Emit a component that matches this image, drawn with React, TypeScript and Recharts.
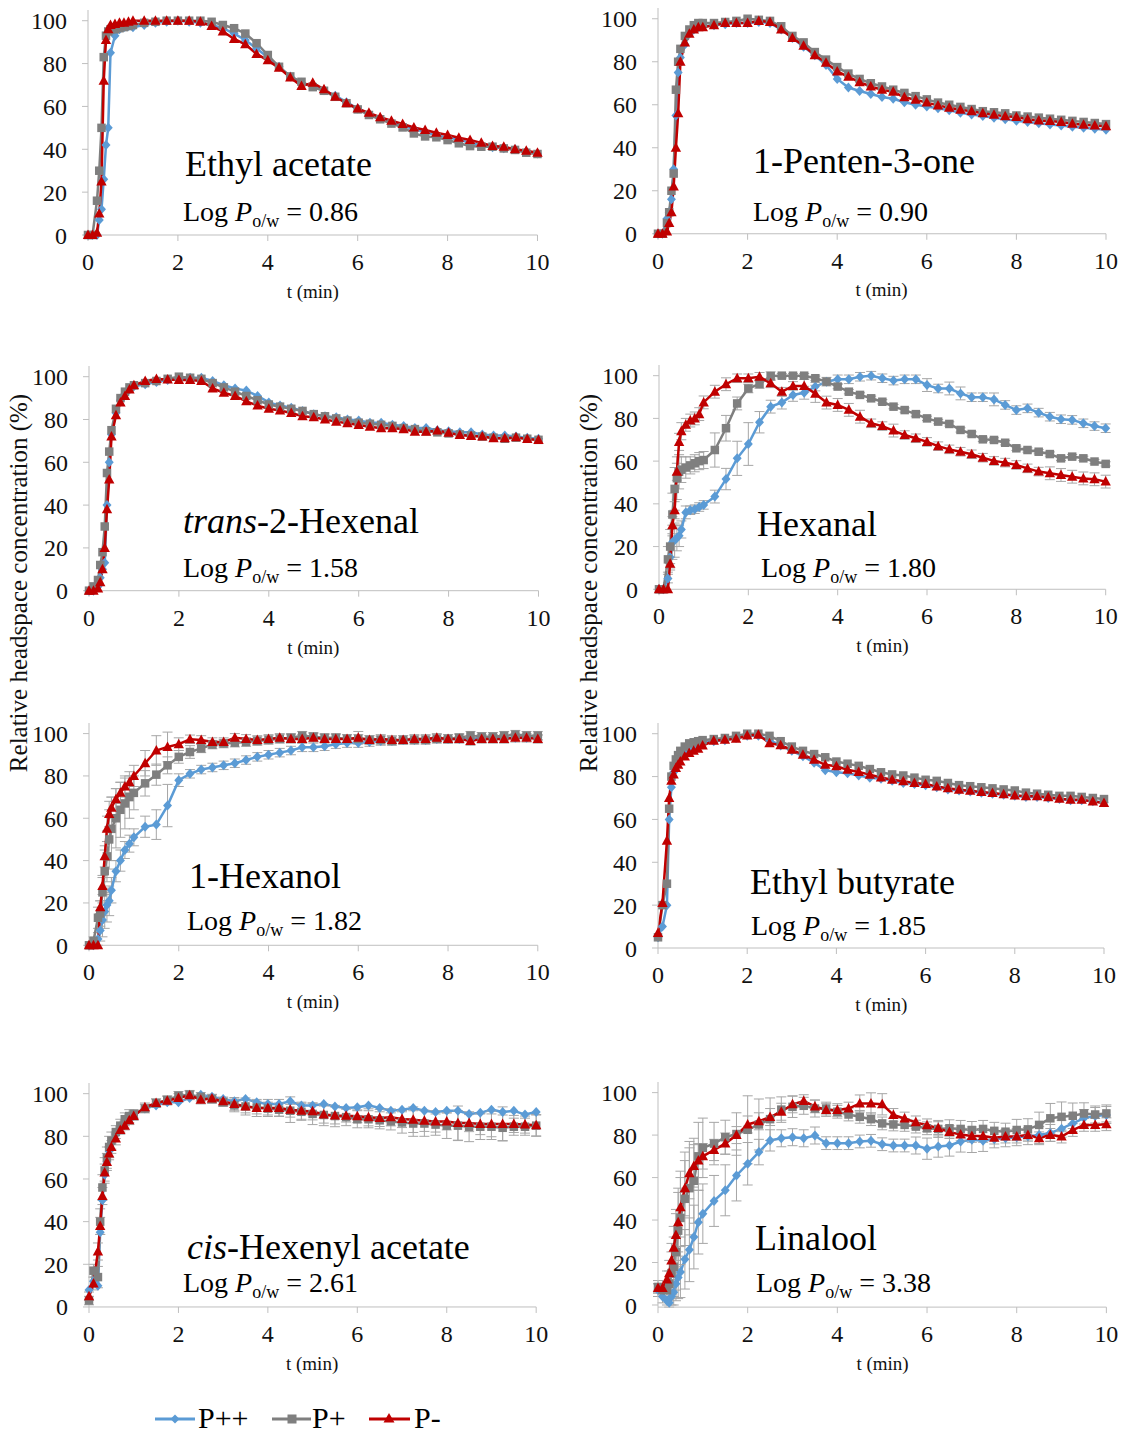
import React from "react";
import { LineChart, Line, XAxis, YAxis, ErrorBar } from "recharts";

// sampling times (min), shared by all panels
const T = [
  0, 0.1, 0.2, 0.25, 0.3, 0.35, 0.4, 0.45, 0.5, 0.6, 0.7, 0.8, 0.9,
  1, 1.25, 1.5, 1.75, 2, 2.25, 2.5, 2.75, 3, 3.25, 3.5, 3.75, 4, 4.25, 4.5, 4.75, 5, 5.25, 5.5, 5.75, 6, 6.25, 6.5,
  6.75, 7, 7.25, 7.5, 7.75, 8, 8.25, 8.5, 8.75, 9, 9.25, 9.5, 9.75, 10,
];
const X_TICKS = [0, 2, 4, 6, 8, 10];
const Y_TICKS = [0, 20, 40, 60, 80, 100];

// Ethyl acetate
const ethylAcetatePP = [
  0, 0, 0, 7, 12, 26, 42, 50, 85, 93, 96, 97, 97.5,
  97, 98, 99, 99.5, 100, 99.5, 99, 98, 96.5, 94, 91, 87, 83, 78.5, 74, 71, 69.5, 67.5, 65, 62, 59, 56.5, 54.5, 52.5,
  51, 49.5, 48, 46.5, 45.5, 44.5, 43, 42, 41, 40.5, 40, 39, 38,
];
const ethylAcetateP = [
  0, 0, 16, 30, 50, 83, 93, 95, 96, 96, 96.5, 97, 97.5,
  98, 99, 99.5, 100, 100, 100, 100, 99.5, 98, 96.5, 94, 89.5, 84, 78.5, 74, 71.5, 69, 67.3, 64.5, 61.5, 58.6, 56, 54,
  52, 50.2, 47.4, 46, 45.6, 44.3, 42.8, 41.5, 41.2, 41.2, 40.4, 39.7, 38.4, 37.8,
];
const ethylAcetateM = [
  0, 0, 1, 10, 25, 72, 91, 96, 98, 98.5, 99, 99, 99.5,
  100, 100, 100, 100, 100, 100, 99.5, 97.5, 95, 91.5, 89, 84.5, 81.5, 78, 73.5, 69.5, 71, 68, 64.5, 61.5, 59, 57, 55,
  53.3, 51.8, 50.2, 49, 47.7, 46.7, 45.4, 44.3, 43, 41.5, 41.2, 40, 39.3, 38.4,
];

// 1-Penten-3-one
const pentenonePP = [
  0, 0, 7, 10, 16, 30, 55, 75, 82, 88, 93, 95, 96,
  96.5, 97, 97.5, 98, 98, 98.5, 98, 95, 91, 87, 83, 78.5, 72, 68, 66.4, 65, 63.6, 62.8, 61.2, 60, 59.2, 58.4, 57.4,
  56.3, 55.5, 54.8, 54, 53.3, 52.6, 52, 51.4, 50.8, 50.3, 49.8, 49.3, 48.8, 48.4,
];
const pentenoneP = [
  0, 0, 5, 10, 20, 28, 67, 80, 86, 92, 95, 97, 98,
  98, 98, 98.5, 99, 100, 99.5, 99, 96.5, 92, 89, 84.5, 81, 77.5, 74.5, 72, 70, 68.5, 67, 65.5, 64, 62.5, 61, 60,
  59, 58, 57, 56.5, 56, 55, 54.5, 54, 53.5, 53, 52.5, 52, 51.5, 51,
];
const pentenoneM = [
  0, 0, 1, 5, 10, 22, 40, 56, 80, 89, 93, 95, 96,
  96, 97, 98, 98, 98, 99, 98.5, 95, 91, 87.5, 83, 79.5, 75.5, 73, 70.5, 68.5, 67, 66, 63.5, 62.3, 61, 59.7, 58.6,
  57.7, 57, 56, 55.3, 54.7, 54.3, 53.3, 52.7, 52.4, 52, 51.2, 50.7, 50.4, 50,
];

// trans-2-Hexenal
const hexenalPP = [
  0, 0, 2, 6, 10, 13, 40, 60, 73, 83, 89, 92, 94,
  95.5, 96.5, 97.5, 98.5, 99, 99.5, 99.5, 98, 96, 94.5, 93.5, 91, 88, 86.5, 85.5, 84, 82.5, 81.5, 81, 80, 79.5, 78.5,
  78.5, 77.5, 77, 76, 76, 75, 74.5, 74, 74, 73, 72.5, 72.5, 72, 71.5, 71,
];
const hexenalP = [
  0, 2, 5, 12, 18, 30, 55, 65, 75, 85, 90, 93, 95,
  96, 97, 98, 99, 100, 99.5, 99, 97, 95, 93, 91, 89, 87, 86, 85, 84, 82.5, 81.5, 80.5, 79.5, 78.5, 78, 77.5,
  77, 76, 75.5, 74.5, 74, 73.5, 73, 72.5, 72, 71.5, 71, 71.5, 71, 70.5,
];
const hexenalM = [
  0, 0, 1, 4, 10, 20, 38, 52, 72, 82, 88, 91, 94,
  96, 98, 98.9, 98.7, 98.4, 98.4, 98, 94.5, 92.5, 91, 88.5, 86.5, 85, 84.2, 83, 81.5, 81, 80, 79, 78.2, 77.4, 76.6,
  75.9, 75.9, 75.5, 74.3, 74.3, 74.8, 73.8, 72.7, 72.3, 72, 71.2, 71.2, 71.7, 70.9, 70.4,
];

// Hexanal
const hexanalPP = [
  0, 0, 5, 15, 22, 23, 24, 25, 28, 36, 37, 37.5, 38.5,
  39.5, 43.4, 51.6, 61.3, 68, 78.2, 85.5, 87.4, 91, 92, 94.9, 97.2, 98.3, 98.3, 99.5, 100, 98.8, 97.7, 98.3, 98.3,
  95.6, 94, 94, 91.7, 89.9, 89.9, 88.9, 86.3, 83.9, 84.7, 82.7, 80.8, 79.6, 79.3, 77.7, 76.4, 75.4,
];
const hexanalP = [
  0, 0, 14, 20, 35, 47, 52, 55, 56, 57, 58, 59, 60,
  60.5, 65.2, 75.4, 87, 94, 96.1, 99.8, 100, 100, 100, 98.8, 97.2, 94.9, 92.5, 91, 89.4, 87.8, 85.5, 83.9, 82, 80,
  78.5, 77.4, 74.6, 72.7, 70.2, 69.9, 68.6, 66, 65.2, 64.4, 63.3, 61.3, 62.1, 61.3, 59.8, 58.7,
];
const hexanalM = [
  0, 0, 0, 12, 30, 37, 55, 69, 74, 77, 79, 80, 82,
  87.5, 92.5, 96, 98.8, 98.8, 99.5, 96.4, 92.5, 95.2, 95.2, 91.5, 87.4, 86.3, 84, 80.8, 77.7, 76.4, 74.3, 72.2, 70.7,
  69, 67, 65.5, 64.4, 63.2, 61.6, 60.1, 59.3, 58.2, 56.6, 55.1, 54.3, 53.5, 52.7, 51.9, 51.5, 50.4,
];
const hexanalErrPP = [
  0, 0, 2, 5, 8, 8, 6, 5, 4, 3, 2, 2, 2,
  2, 3, 5, 8, 10, 5, 3, 3, 3, 3, 2, 2, 2, 2, 2, 2, 2, 2, 2, 2, 3, 2, 3, 3, 2, 2, 3, 2, 2, 2, 2, 2, 2, 2, 2, 2, 2,
];
const hexanalErrP = [
  0, 0, 6, 8, 10, 10, 10, 8, 6, 5, 4, 4, 4,
  4, 8, 6, 3, 2, 2, 2, 1, 1, 1, 1, 1, 1, 1, 1, 1, 1, 1, 1, 1, 1, 1, 1, 1, 1, 1, 1, 1, 1, 1, 1, 1, 1, 1, 1, 1, 1,
];
const hexanalErrM = [
  0, 0, 0, 3, 4, 4, 4, 4, 4, 3, 3, 3, 3,
  3, 3, 3, 2, 2, 2, 2, 2, 2, 3, 4, 3, 3, 3, 3, 2, 2, 3, 2, 2, 2, 2, 2, 2, 2, 2, 2, 2, 2, 2, 2, 3, 3, 3, 3, 3, 3,
];

// 1-Hexanol
const hexanolPP = [
  0, 0, 3, 7, 12, 16, 19, 21, 26, 35, 40, 45, 48,
  51, 56, 57, 66, 78, 81, 83, 84, 85, 86, 87.5, 89, 90, 91, 92, 93.5, 93.5, 94, 95, 95.5, 95.5, 96, 96.5, 96.5,
  97, 97, 97, 97.5, 97.5, 97.5, 97.5, 98, 98, 98, 98, 98, 98,
];
const hexanolP = [
  0, 2, 13, 15, 25, 35, 42, 50, 55, 60, 64, 67, 70,
  72, 76.5, 80.6, 85, 89, 91.3, 93, 94.8, 95.3, 95.7, 96, 96.5, 97, 97.5, 98, 99, 98.5, 98, 98, 97.5, 97.5, 97, 97,
  96.5, 97, 97, 97, 97.5, 97.5, 98, 99, 98.5, 98.5, 99, 99.5, 99, 99,
];
const hexanolM = [
  0, 0, 0, 18, 28, 42, 55, 62, 65, 69, 72, 75, 77,
  80, 86, 92, 93.7, 95, 97.3, 97, 96, 96, 98, 97.5, 97, 97.5, 98, 97.5, 97.5, 98, 97.5, 97.5, 97.5, 98, 97, 97.5,
  97, 97, 97.5, 97.5, 98, 97.5, 97.5, 96.5, 97.5, 97.5, 97.5, 98, 98, 97.5,
];
const hexanolErrPP = [
  0, 0, 3, 5, 8, 8, 8, 7, 6, 5, 5, 4, 4,
  4, 5, 7, 10, 3, 2, 2, 2, 2, 2, 2, 2, 2, 2, 2, 2, 2, 2, 2, 2, 2, 2, 2, 1, 1, 1, 1, 1, 1, 1, 1, 1, 1, 1, 1, 1, 1,
];
const hexanolErrP = [
  0, 2, 5, 6, 8, 10, 12, 14, 15, 14, 13, 12, 10,
  8, 6, 5, 4, 3, 3, 2, 2, 2, 2, 2, 2, 2, 2, 2, 2, 2, 2, 2, 2, 2, 2, 2, 2, 2, 2, 2, 2, 2, 2, 2, 2, 2, 2, 2, 2, 2,
];
const hexanolErrM = [
  0, 0, 0, 3, 4, 5, 6, 6, 5, 5, 5, 5, 5,
  5, 6, 7, 7, 3, 2, 2, 2, 2, 2, 2, 2, 2, 2, 2, 2, 2, 2, 2, 2, 3, 2, 2, 2, 2, 2, 2, 2, 2, 2, 2, 2, 2, 2, 2, 2, 2,
];

// Ethyl butyrate
const ethylButyratePP = [
  5, 10, 20, 60, 75, 82, 86, 88, 90, 92, 93.5, 94.5, 95,
  96, 96.5, 97, 98, 99, 99, 97, 94.5, 92, 89.5, 86.5, 83, 82, 81.5, 80.5, 79.5, 79, 78, 77, 76.5, 76, 75, 74,
  73.5, 73, 72.5, 72, 71.5, 71, 70.5, 70.5, 70, 69.5, 69, 69, 68.5, 68,
];
const ethylButyrateP = [
  5, 20, 30, 65, 80, 85, 88, 90, 92, 94, 95.5, 96, 96.5,
  97, 97.5, 98, 99, 100, 100, 99, 96.5, 94, 92, 90.5, 89, 87, 86, 85, 83.5, 82, 81, 80.5, 79.5, 78.5, 78, 77,
  76, 75.5, 75, 74.5, 74, 73.5, 72.5, 72, 71.5, 71, 71, 70.5, 70, 69.5,
];
const ethylButyrateM = [
  7, 21, 50, 70, 78, 81, 84, 85.5, 87, 89.4, 91, 92, 93,
  94.5, 96.7, 97.2, 97.7, 99.2, 99.5, 95.6, 94.6, 92.5, 90.2, 87.9, 85.5, 84.8, 83.2, 82.1, 80.9, 79.6, 78.5, 77.8,
  77, 76.5, 75.4, 74.6, 73.9, 73.4, 72.8, 72.3, 71.8, 71.2, 70.8, 70.8, 70.3, 69.7, 69.2, 69.2, 68.4, 67.7,
];

// cis-Hexenyl acetate
const hexenylAcetatePP = [
  8, 12, 10, 35, 50, 62, 68, 73, 77, 81, 84, 86.5, 88,
  90, 93, 94.5, 96, 96, 98, 99.5, 98.5, 97.5, 96.5, 97.5, 96, 95.2, 95.2, 96.4, 94.5, 94.5, 95.2, 94, 93.3, 93.6,
  94.5, 93.3, 92, 92.5, 93.3, 92, 91.4, 92, 92, 90.5, 91, 92.5, 91.4, 92, 90.2, 91.4,
];
const hexenylAcetateP = [
  3, 17, 14, 40, 56, 64, 70, 75, 78, 82, 85, 88, 89.5,
  90.5, 93, 95.5, 97, 99, 99.5, 98.5, 97.5, 96, 94.5, 94, 93.5, 93, 92.5, 92, 91.5, 90.5, 90, 89.5, 89, 88, 88,
  87.5, 87, 86.5, 86, 86, 85.5, 85, 85, 84.5, 84.5, 84.5, 84, 84.5, 84.5, 85,
];
const hexenylAcetateM = [
  5, 11, 26, 38, 52, 63, 68, 72, 75, 79, 83, 85, 87.5,
  89.5, 93.6, 95.6, 96.7, 98, 99.2, 97.2, 97.7, 96.4, 95.2, 94, 93.3, 93.3, 93.3, 92.5, 92, 91.7, 90.2, 89.8, 89.7,
  89.4, 88.9, 88.6, 88.9, 88.1, 87.8, 87.3, 87, 87, 86.2, 86.2, 85.8, 85.8, 85.8, 85.8, 85.5, 85.2,
];
const hexenylAcetateErrP = [
  2, 3, 5, 6, 6, 6, 5, 5, 4, 3, 3, 3, 3,
  2, 2, 2, 2, 2, 2, 2, 2, 2, 3, 3, 3, 3, 3, 3, 4, 5, 5, 5, 4, 4, 4, 4, 4, 5, 6, 6, 5, 6, 7, 7, 6, 6, 6, 4, 4, 5,
];
const hexenylAcetateErrM = [
  2, 3, 4, 4, 4, 4, 4, 3, 3, 3, 2, 2, 2,
  2, 2, 2, 2, 2, 2, 2, 2, 2, 3, 4, 4, 4, 4, 6, 4, 4, 4, 4, 3, 3, 4, 4, 4, 4, 6, 5, 5, 4, 8, 4, 5, 6, 8, 4, 4, 5,
];

// Linalool
const linaloolPP = [
  7, 4, 2, 1, 4, 6, 10, 13, 15.5, 21.5, 26, 32, 39,
  43, 49, 54, 61, 66.5, 72, 77.5, 78.5, 79, 78.5, 79.8, 76.2, 76.2, 76.2, 77, 77.3, 75.7, 75.1, 75.1, 75.1, 73.6,
  74.6, 75.1, 77, 77.8, 77.3, 78, 78.5, 79, 79.5, 80, 81, 83, 85.5, 88, 89, 89.5,
];
const linaloolP = [
  8.5, 7, 7, 10, 15, 18, 25, 35, 41, 50, 55, 58.5, 70,
  74, 76, 79, 80.5, 82.5, 85, 87.5, 92, 93.3, 93.8, 92.5, 92.5, 91, 89.7, 88.6, 87.5, 85.5, 85, 84.8, 84, 83.2,
  82.9, 83.2, 82.9, 82.4, 82.9, 82, 81.6, 82.4, 82.7, 84.8, 87.9, 88.6, 89.1, 90.2, 89.7, 90.2,
];
const linaloolM = [
  8, 8, 12, 15, 21, 27, 33, 39, 46, 55, 62, 65.5, 68,
  70, 73, 76, 80, 85, 86.5, 88.5, 91, 94.5, 96, 93.5, 91.8, 91.8, 92.5, 94.9, 94.9, 94.5, 89.5, 87.8, 86, 84.6,
  83.3, 81.4, 80.3, 79.6, 79.6, 78.8, 79.3, 79.3, 80.1, 78.5, 80.1, 79.3, 82.4, 84.8, 84.8, 85.1,
];
const linaloolErrPP = [
  3, 3, 2, 2, 4, 6, 8, 10, 12, 14, 15, 15, 15,
  14, 12, 12, 12, 10, 6, 5, 4, 4, 4, 4, 3, 3, 3, 3, 3, 3, 3, 3, 4, 5, 5, 5, 5, 6, 5, 4, 4, 4, 4, 4, 4, 4, 4, 4, 4, 4,
];
const linaloolErrP = [
  3, 3, 4, 6, 10, 14, 18, 20, 22, 22, 22, 20, 16,
  14, 10, 8, 10, 16, 12, 10, 6, 5, 4, 4, 3, 3, 3, 3, 3, 3, 3, 3, 3, 3, 4, 4, 4, 4, 4, 4, 4, 5, 5, 6, 7, 7, 6, 5, 4, 4,
];
const linaloolErrM = [
  2, 2, 4, 6, 8, 10, 12, 14, 14, 13, 12, 10, 8,
  6, 5, 5, 4, 4, 4, 4, 4, 4, 3, 3, 3, 3, 3, 4, 5, 5, 3, 3, 3, 3, 3, 3, 3, 3, 3, 3, 3, 3, 3, 3, 3, 3, 3, 3, 3, 3,
];

const SERIF = '"Liberation Serif", "Times New Roman", Times, serif';
const BLUE = "#5b9bd5";
const GRAY = "#7f7f7f";
const RED = "#c00000";
const AXIS = "#bfbfbf";
const ERR = "#a6a6a6";
const INK = "#111";
const TICK_SIZE = 24;

interface PanelCfg {
  name: string;
  italic?: string;
  logP: string;
  pp: number[];
  p: number[];
  m: number[];
  epp?: number[];
  ep?: number[];
  em?: number[];
  // plot box: x of t=0 / t=10, y of 0 / 100 %
  x0: number;
  x1: number;
  y0: number;
  y100: number;
  nameX: number;
  nameY: number;
  logX: number;
  logY: number;
}

const PANELS: PanelCfg[] = [
  { name: "Ethyl acetate", logP: "0.86", pp: ethylAcetatePP, p: ethylAcetateP, m: ethylAcetateM,
    x0: 88, x1: 537.5, y0: 235, y100: 20.7, nameX: 185, nameY: 176, logX: 183, logY: 221 },
  { name: "1-Penten-3-one", logP: "0.90", pp: pentenonePP, p: pentenoneP, m: pentenoneM,
    x0: 657.5, x1: 1105.5, y0: 233.3, y100: 18.3, nameX: 753, nameY: 173, logX: 753, logY: 221 },
  { name: "-2-Hexenal", italic: "trans", logP: "1.58", pp: hexenalPP, p: hexenalP, m: hexenalM,
    x0: 88.5, x1: 538, y0: 590.7, y100: 376.7, nameX: 183, nameY: 533, logX: 183, logY: 577 },
  { name: "Hexanal", logP: "1.80", pp: hexanalPP, p: hexanalP, m: hexanalM,
    epp: hexanalErrPP, ep: hexanalErrP, em: hexanalErrM,
    x0: 659, x1: 1105.7, y0: 589.3, y100: 375.7, nameX: 757, nameY: 536, logX: 761, logY: 577 },
  { name: "1-Hexanol", logP: "1.82", pp: hexanolPP, p: hexanolP, m: hexanolM,
    epp: hexanolErrPP, ep: hexanolErrP, em: hexanolErrM,
    x0: 88.5, x1: 537.3, y0: 945, y100: 733.3, nameX: 189, nameY: 888, logX: 187, logY: 930 },
  { name: "Ethyl butyrate", logP: "1.85", pp: ethylButyratePP, p: ethylButyrateP, m: ethylButyrateM,
    x0: 658.3, x1: 1104.3, y0: 948.3, y100: 734, nameX: 750, nameY: 894, logX: 751, logY: 935 },
  { name: "-Hexenyl acetate", italic: "cis", logP: "2.61", pp: hexenylAcetatePP, p: hexenylAcetateP, m: hexenylAcetateM,
    ep: hexenylAcetateErrP, em: hexenylAcetateErrM,
    x0: 88.5, x1: 535.7, y0: 1307.3, y100: 1094, nameX: 187, nameY: 1259, logX: 183, logY: 1292 },
  { name: "Linalool", logP: "3.38", pp: linaloolPP, p: linaloolP, m: linaloolM,
    epp: linaloolErrPP, ep: linaloolErrP, em: linaloolErrM,
    x0: 658.3, x1: 1106.7, y0: 1306.7, y100: 1092.3, nameX: 755, nameY: 1250, logX: 756, logY: 1292 },
];

const diamondDot = (props: any) => {
  const { cx, cy, index } = props;
  if (cx == null || cy == null) return <g key={`dd-${index}`} />;
  return (
    <path key={`dd-${index}`} d={`M${cx} ${cy - 5}L${cx + 4.5} ${cy}L${cx} ${cy + 5}L${cx - 4.5} ${cy}Z`} fill={BLUE} />
  );
};
const squareDot = (props: any) => {
  const { cx, cy, index } = props;
  if (cx == null || cy == null) return <g key={`sd-${index}`} />;
  return <rect key={`sd-${index}`} x={cx - 4.25} y={cy - 4.25} width={8.5} height={8.5} fill={GRAY} />;
};
const triangleDot = (props: any) => {
  const { cx, cy, index } = props;
  if (cx == null || cy == null) return <g key={`td-${index}`} />;
  return (
    <path key={`td-${index}`} d={`M${cx} ${cy - 5.5}L${cx + 5.2} ${cy + 4}L${cx - 5.2} ${cy + 4}Z`} fill={RED} />
  );
};

const XTick = (props: any) => {
  const { x, y, payload } = props;
  return (
    <text x={x} y={y} dy="0.71em" textAnchor="middle" fontSize={TICK_SIZE} fill={INK} style={{ fontFamily: SERIF }}>
      {payload.value}
    </text>
  );
};
const YTick = (props: any) => {
  const { x, y, payload } = props;
  return (
    <text x={x} y={y} dy="0.355em" textAnchor="end" fontSize={TICK_SIZE} fill={INK} style={{ fontFamily: SERIF }}>
      {payload.value}
    </text>
  );
};

const ML = 60;
const MT = 10;
const MR = 25;
const MB = 70;

function Panel({ cfg }: { cfg: PanelCfg }) {
  const data = T.map((t, i) => ({
    t,
    pp: cfg.pp[i],
    p: cfg.p[i],
    m: cfg.m[i],
    epp: cfg.epp ? cfg.epp[i] : 0,
    ep: cfg.ep ? cfg.ep[i] : 0,
    em: cfg.em ? cfg.em[i] : 0,
  }));
  const pw = cfg.x1 - cfg.x0;
  const ph = (cfg.y0 - cfg.y100) * 1.05;
  return (
    <div style={{ position: "absolute", left: cfg.x0 - ML, top: cfg.y0 - ph - MT, fontFamily: SERIF }}>
      <LineChart
        width={ML + pw + MR}
        height={MT + ph + MB}
        data={data}
        margin={{ top: MT, right: MR, bottom: 0, left: 0 }}
      >
        <XAxis
          dataKey="t"
          type="number"
          domain={[0, 10]}
          ticks={X_TICKS}
          height={MB}
          stroke={AXIS}
          tickSize={6}
          tickMargin={12}
          tick={XTick}
        />
        <YAxis
          domain={[0, 105]}
          ticks={Y_TICKS}
          width={ML}
          stroke={AXIS}
          tickSize={6}
          tickMargin={15}
          tick={YTick}
        />
        <Line dataKey="pp" stroke={BLUE} strokeWidth={2.5} dot={diamondDot} activeDot={false} isAnimationActive={false}>
          {cfg.epp && <ErrorBar dataKey="epp" width={5} stroke={ERR} strokeWidth={1} direction="y" />}
        </Line>
        <Line dataKey="p" stroke={GRAY} strokeWidth={2.5} dot={squareDot} activeDot={false} isAnimationActive={false}>
          {cfg.ep && <ErrorBar dataKey="ep" width={5} stroke={ERR} strokeWidth={1} direction="y" />}
        </Line>
        <Line dataKey="m" stroke={RED} strokeWidth={2.5} dot={triangleDot} activeDot={false} isAnimationActive={false}>
          {cfg.em && <ErrorBar dataKey="em" width={5} stroke={ERR} strokeWidth={1} direction="y" />}
        </Line>
      </LineChart>
    </div>
  );
}

function Annotations() {
  return (
    <svg
      width={1125}
      height={1434}
      style={{ position: "absolute", left: 0, top: 0, pointerEvents: "none" }}
      fontFamily={SERIF}
    >
      {PANELS.map((c) => (
        <g key={c.name}>
          <text x={c.nameX} y={c.nameY} fontSize={36} fill="#000">
            {c.italic && <tspan fontStyle="italic">{c.italic}</tspan>}
            {c.name}
          </text>
          <text x={c.logX} y={c.logY} fontSize={28} fill="#000">
            Log <tspan fontStyle="italic">P</tspan>
            <tspan fontSize={18} dy={6}>o/w</tspan>
            <tspan dy={-6}> = {c.logP}</tspan>
          </text>
          <text x={(c.x0 + c.x1) / 2} y={c.y0 + 63} fontSize={19} textAnchor="middle" fill={INK}>
            t (min)
          </text>
        </g>
      ))}
      <text x={27} y={583} fontSize={25} textAnchor="middle" transform="rotate(-90 27 583)" fill={INK}>
        Relative headspace concentration (%)
      </text>
      <text x={597} y={583} fontSize={25} textAnchor="middle" transform="rotate(-90 597 583)" fill={INK}>
        Relative headspace concentration (%)
      </text>

      {/* legend */}
      <line x1={155} y1={1419} x2={195} y2={1419} stroke={BLUE} strokeWidth={3} />
      <path d="M175 1414.5L179.5 1419L175 1423.5L170.5 1419Z" fill={BLUE} />
      <text x={198} y={1428} fontSize={30} fill="#000">P++</text>
      <line x1={272} y1={1419} x2={311} y2={1419} stroke={GRAY} strokeWidth={3} />
      <rect x={287.5} y={1414.5} width={9} height={9} fill={GRAY} />
      <text x={312} y={1428} fontSize={30} fill="#000">P+</text>
      <line x1={369} y1={1419} x2={410} y2={1419} stroke={RED} strokeWidth={3} />
      <path d="M389 1413L394.5 1422.5L383.5 1422.5Z" fill={RED} />
      <text x={414} y={1428} fontSize={30} fill="#000">P-</text>
    </svg>
  );
}

export default function App() {
  return (
    <div style={{ position: "absolute", left: 0, top: 0, width: 1125, height: 1434, background: "#fff" }}>
      {PANELS.map((c) => (
        <Panel key={c.name} cfg={c} />
      ))}
      <Annotations />
    </div>
  );
}
